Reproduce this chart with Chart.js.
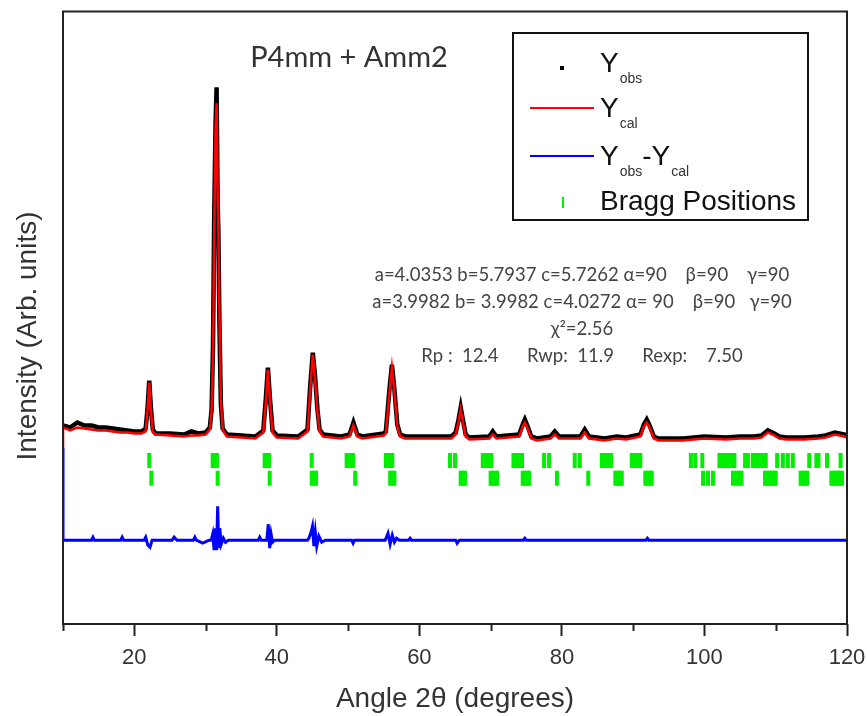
<!DOCTYPE html>
<html>
<head>
<meta charset="utf-8">
<title>P4mm + Amm2 Rietveld refinement</title>
<script src="https://cdn.jsdelivr.net/npm/chart.js@4.4.1/dist/chart.umd.min.js"></script>
<style>
  body { margin: 0; background: #fff; }
  #wrap { width: 867px; height: 716px; }
</style>
</head>
<body>
<div id="wrap"><canvas id="rietveld" width="867" height="716"></canvas></div>
<script>
// 2theta of the observed / calculated pattern
const obsAngle = [10, 11, 12, 13, 14, 15, 16, 17, 18, 19, 20, 21, 21.6, 21.85, 22.1, 22.35, 22.6, 23, 25, 27, 28, 29, 30,
  30.6, 30.85, 31.05, 31.2, 31.4, 31.55, 31.7, 31.8, 31.95, 32.15, 32.4, 33, 35, 37,
  38.1, 38.45, 38.75, 39.05, 39.4, 40, 43, 44.3, 44.7, 45.05, 45.35, 45.7, 46.0, 46.5, 49,
  50.2, 50.75, 51.3, 52, 55, 55.3, 55.8, 56.15, 56.5, 56.9, 57.3, 58, 64.5,
  65.1, 65.5, 65.8, 66.1, 66.5, 67, 69.8, 70.3, 70.8, 74.0, 74.5, 74.8, 75.2, 75.7, 76.5,
  78.4, 79.0, 79.6, 82.6, 83.2, 83.8, 86, 87.7, 89, 91.0, 91.5, 91.9, 92.3, 92.9, 93.5,
  97, 100, 103, 105, 107, 108.0, 108.9, 109.8, 110.5, 111.5, 114, 116, 117.0, 118.3, 119.6, 120];
const obsInt = [199, 197, 202, 199, 199, 197, 197, 196, 195, 194, 193, 193, 196, 215, 244, 215, 195, 191, 191, 190, 193, 191, 192,
  197, 215, 280, 400, 500, 538, 420, 395, 300, 220, 196, 190, 189, 188,
  194, 225, 257, 225, 194, 189, 188, 195, 240, 272, 250, 215, 195, 190, 188,
  190, 202, 190, 188, 191, 193, 235, 260, 235, 200, 190, 188, 188,
  192, 205, 217, 205, 190, 187, 188, 193, 188, 190, 200, 205, 198, 188, 186,
  188, 193, 188, 188, 195, 188, 186, 188, 187, 190, 200, 205, 199, 188, 186,
  186, 188, 187, 188, 188, 189, 194, 191, 188, 187, 187, 188, 189, 192, 190, 189];
const calInt = [197, 194, 197, 196, 195, 194, 194, 193, 192, 192, 191, 191, 193, 214, 242, 213, 192, 190, 189, 188, 189, 189, 190,
  195, 213, 270, 385, 495, 522, 430, 398, 310, 225, 195, 188, 187, 186,
  192, 222, 255, 223, 192, 187, 186, 193, 236, 270, 247, 213, 193, 188, 186,
  188, 199, 188, 186, 189, 191, 232, 257, 233, 198, 188, 186, 186,
  190, 203, 215, 203, 188, 185, 186, 190, 186, 188, 198, 202, 196, 186, 184,
  186, 190, 186, 186, 192, 186, 184, 186, 185, 188, 198, 202, 197, 186, 184,
  184, 186, 185, 186, 186, 187, 192, 189, 186, 185, 185, 186, 187, 190, 188, 187];
const calLeadIn = 177;

// difference curve
const diffAngle = [10, 10, 14, 14.2, 14.4, 18.1, 18.3, 18.5, 21.4, 21.6, 21.9, 22.2, 22.5, 23,
  25.3, 25.6, 26.0, 28.3, 28.5, 28.7, 29.6, 30.5, 30.8, 31.0, 31.2, 31.4, 31.55, 31.7, 31.85,
  32.0, 32.2, 32.5, 32.8, 33.2, 37.4, 37.6, 37.8, 38.6, 38.8, 39.0, 39.2, 39.4, 39.7, 40.5,
  44.3, 44.5, 44.8, 45.0, 45.2, 45.4, 45.6, 45.9, 46.3, 46.8, 50.5, 50.7, 50.9,
  55.2, 55.6, 55.9, 56.2, 56.5, 56.8, 57.2, 58.5, 58.7, 58.9, 65.1, 65.3, 65.6,
  74.6, 74.8, 75.0, 91.8, 92.0, 92.2, 120];
const diffInt = [177, 84, 84, 87, 84, 84, 87, 84, 84, 87, 79, 77, 84, 84,
  84, 87, 84, 84, 87, 84, 81, 84, 84, 90, 74, 96, 74, 118, 76,
  96, 80, 86, 82, 84, 84, 87, 84, 84, 100, 76, 90, 82, 84, 84,
  84, 86, 92, 98, 78, 92, 78, 88, 82, 84, 84, 81, 84,
  84, 91, 80, 89, 82, 86, 84, 84, 86, 84, 84, 81, 84,
  84, 86, 84, 84, 86, 84, 84];

// Bragg reflections, phase rows
const braggRow1 = [22.1, 31.0, 31.3, 31.6, 38.3, 38.6, 38.9, 44.9, 49.8, 50.1, 50.4, 50.7, 55.3, 55.6, 55.9, 56.2,
  64.3, 65.0, 68.9, 69.2, 69.5, 69.8, 70.1, 73.2, 73.5, 73.8, 74.1, 74.4, 77.5, 78.2, 81.8, 82.5,
  85.6, 85.9, 86.2, 86.5, 86.9, 89.8, 90.1, 90.4, 90.7, 91.0, 98.1, 98.7, 99.7,
  102.1, 102.4, 102.7, 103.0, 103.3, 103.6, 103.9, 104.2, 105.7, 106.1, 106.8, 107.1, 107.4, 107.7, 108.0, 108.3, 108.6,
  110.2, 111.0, 111.7, 112.4, 114.7, 115.7, 116.0, 117.2, 119.1];
const braggRow2 = [22.4, 31.7, 39.0, 44.9, 45.2, 45.5, 51.0, 55.9, 56.2, 56.5, 65.8, 66.1, 66.4,
  70.0, 70.3, 70.6, 70.9, 74.5, 74.8, 75.1, 75.4, 79.3, 83.7, 87.5, 87.8, 88.1, 88.4, 91.7, 92.0, 92.3, 92.6,
  99.8, 100.5, 101.2, 104.0, 104.4, 104.8, 105.2, 108.5, 108.8, 109.1, 109.4, 109.7, 110.0,
  113.5, 113.8, 114.1, 114.4, 117.8, 118.1, 118.4, 118.7, 119.0, 119.3];
const braggLevel = [164, 146];

const xTicksMinor = [10, 30, 50, 70, 90, 110];

const annotationLines = [
  "a=4.0353 b=5.7937 c=5.7262 \u03b1=90    \u03b2=90    \u03b3=90",
  "a=3.9982 b= 3.9982 c=4.0272 \u03b1= 90    \u03b2=90   \u03b3=90",
  "\u03c7\u00b2=2.56",
  "Rp :  12.4      Rwp:  11.9      Rexp:    7.50"
];

const toPoints = (xs, ys) => xs.map((x, i) => ({ x: x, y: ys[i] }));

const FONT = "'Liberation Sans', Arial, sans-serif";
const NOTE_FONT = "Lato, 'Open Sans', sans-serif";

const datasets = [
  {
    label: "Ycal",
    data: [{ x: obsAngle[0], y: calLeadIn }].concat(toPoints(obsAngle, calInt)),
    showLine: true,
    borderColor: "#ff0000",
    borderWidth: 2.5,
    pointRadius: 0
  },
  {
    label: "Yobs",
    data: toPoints(obsAngle, obsInt),
    showLine: true,
    borderColor: "#000000",
    backgroundColor: "#000000",
    borderWidth: 4.5,
    pointRadius: 0
  },
  {
    label: "Yobs-Ycal",
    data: toPoints(diffAngle, diffInt),
    showLine: true,
    borderColor: "#0000ff",
    borderWidth: 3,
    pointRadius: 0
  },
  {
    label: "Bragg Positions",
    data: braggRow1.map((x) => ({ x: x, y: braggLevel[0] })),
    showLine: false,
    pointStyle: "line",
    rotation: 90,
    pointRadius: 7.5,
    borderColor: "#00ee00",
    borderWidth: 4
  },
  {
    label: "Bragg Positions 2",
    data: braggRow2.map((x) => ({ x: x, y: braggLevel[1] })),
    showLine: false,
    pointStyle: "line",
    rotation: 90,
    pointRadius: 7.5,
    borderColor: "#00ee00",
    borderWidth: 4
  }
];

// frame, minor ticks, legend, y title and the notes
const decorations = {
  id: "decorations",
  afterDraw(chart) {
    const ctx = chart.ctx;
    const area = chart.chartArea;
    const xs = chart.scales.x;
    ctx.save();

    ctx.strokeStyle = "#222";
    ctx.lineWidth = 2;
    ctx.strokeRect(area.left, area.top, area.right - area.left, area.bottom - area.top);

    ctx.beginPath();
    xTicksMinor.forEach((v) => {
      const px = Math.round(xs.getPixelForValue(v)) + 0.5;
      ctx.moveTo(px, area.bottom);
      ctx.lineTo(px, area.bottom + 7);
    });
    ctx.stroke();

    // y axis title
    ctx.fillStyle = "#333";
    ctx.font = "28px " + FONT;
    ctx.textAlign = "center";
    ctx.textBaseline = "middle";
    ctx.translate(28, 336);
    ctx.rotate(-Math.PI / 2);
    ctx.fillText("Intensity (Arb. units)", 0, 0);
    ctx.setTransform(1, 0, 0, 1, 0, 0);

    // phase label
    ctx.textBaseline = "alphabetic";
    ctx.fillStyle = "#333";
    ctx.font = "29px " + NOTE_FONT;
    ctx.fillText("P4mm + Amm2", 349, 67);

    // lattice parameters and agreement factors
    ctx.fillStyle = "#444";
    ctx.font = "18.5px " + NOTE_FONT;
    annotationLines.forEach((line, i) => {
      ctx.fillText(line, 582, 281 + i * 27);
    });

    // legend
    const box = { x: 513, y: 33, w: 295, h: 187 };
    ctx.fillStyle = "#fff";
    ctx.fillRect(box.x, box.y, box.w, box.h);
    ctx.strokeStyle = "#111";
    ctx.lineWidth = 2;
    ctx.strokeRect(box.x, box.y, box.w, box.h);

    const ds = chart.data.datasets;
    const rows = [
      { kind: "dot", color: ds[1].borderColor, y: 72, parts: [["Y", 0], ["obs", 1]] },
      { kind: "line", color: ds[0].borderColor, y: 117, parts: [["Y", 0], ["cal", 1]] },
      { kind: "line", color: ds[2].borderColor, y: 165, parts: [["Y", 0], ["obs", 1], ["-Y", 0], ["cal", 1]] },
      { kind: "tick", color: ds[3].borderColor, y: 210, parts: [["Bragg Positions", 0]] }
    ];
    rows.forEach((row) => {
      if (row.kind === "dot") {
        ctx.fillStyle = row.color;
        ctx.fillRect(560, row.y - 6, 4, 4);
      } else if (row.kind === "line") {
        ctx.strokeStyle = row.color;
        ctx.lineWidth = 2;
        ctx.beginPath();
        ctx.moveTo(530, row.y - 9);
        ctx.lineTo(594, row.y - 9);
        ctx.stroke();
      } else {
        ctx.strokeStyle = row.color;
        ctx.lineWidth = 2;
        ctx.beginPath();
        ctx.moveTo(563, row.y - 13);
        ctx.lineTo(563, row.y - 2);
        ctx.stroke();
      }
      let tx = 600;
      ctx.textAlign = "left";
      row.parts.forEach(([text, sub]) => {
        ctx.fillStyle = sub ? "#333" : "#111";
        ctx.font = sub ? "14px " + FONT : "28px " + FONT;
        ctx.fillText(text, tx, sub ? row.y + 11 : row.y);
        tx += ctx.measureText(text).width + (sub ? 0 : 1);
      });
    });
    ctx.restore();
  }
};

const chartRietveld = new Chart(document.getElementById("rietveld"), {
  type: "scatter",
  data: { datasets: datasets },
  options: {
    responsive: false,
    animation: false,
    events: [],
    layout: { padding: { left: 63, right: 20, top: 10, bottom: 0 } },
    plugins: {
      legend: { display: false },
      tooltip: { enabled: false }
    },
    scales: {
      x: {
        type: "linear",
        min: 10,
        max: 120,
        border: { display: false },
        afterFit: (scale) => {
          scale.paddingLeft = 0;
          scale.paddingRight = 0;
          scale.height = 92;
        },
        grid: {
          drawOnChartArea: false,
          drawTicks: true,
          tickLength: 12,
          tickWidth: 2,
          tickColor: (c) => (c.tick && c.tick.value % 20 === 0 ? "#222" : "rgba(0,0,0,0)")
        },
        ticks: {
          stepSize: 10,
          padding: 9,
          maxRotation: 0,
          color: "#333",
          font: { family: FONT, size: 22 },
          callback: (v) => (v % 20 === 0 ? String(v) : "")
        },
        title: {
          display: true,
          text: "Angle 2\u03b8 (degrees)",
          color: "#333",
          font: { family: FONT, size: 28 },
          padding: { top: 6, bottom: 0 }
        }
      },
      y: {
        type: "linear",
        display: false,
        min: 0,
        max: 614
      }
    }
  },
  plugins: [decorations]
});
</script>
</body>
</html>
